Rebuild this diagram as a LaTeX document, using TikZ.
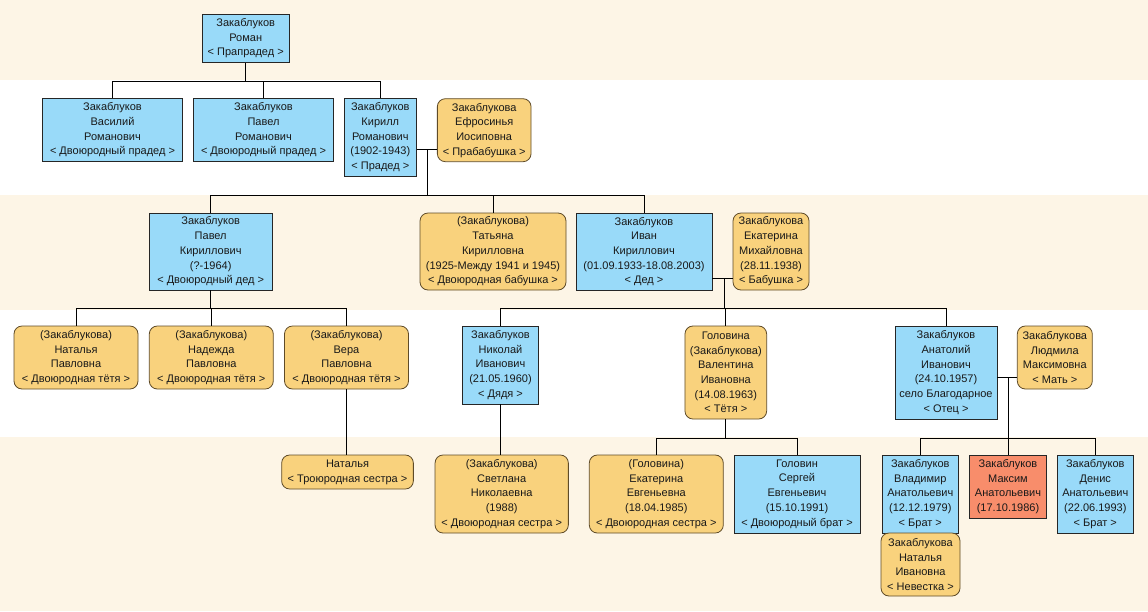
\documentclass[tikz,border=0pt]{standalone}
\usepackage{fontspec}
\setmainfont{Liberation Sans}
\definecolor{cream}{RGB}{253,245,230}
\definecolor{pblue}{RGB}{153,218,249}
\definecolor{porange}{RGB}{249,210,125}
\definecolor{pred}{RGB}{248,141,107}
\definecolor{rimbrown}{RGB}{95,75,40}
\begin{document}
\begin{tikzpicture}[x=1pt,y=-1pt,
  person/.style={inner sep=0pt, align=center, font=\fontsize{11}{14.7}\selectfont, text=black!90, line width=0.8pt},
  man/.style={person, fill=pblue, draw=black!85},
  woman/.style={person, fill=porange, draw=rimbrown, rounded corners=8pt},
  focus/.style={person, fill=pred, draw=black!85},
  link/.style={draw=black, line width=0.9pt}]
\useasboundingbox (0,0) rectangle (1148,611);
% background bands
\fill[cream] (0,0) rectangle (1148,80);
\fill[cream] (0,195) rectangle (1148,310);
\fill[cream] (0,437) rectangle (1148,611);

% bus coordinates
\coordinate (bus0) at (0,81);
\coordinate (ke) at (427.7,149.7);
\coordinate (bus1) at (0,195);
\coordinate (ie) at (724,278);
\coordinate (bus2) at (0,308);
\coordinate (bus3) at (0,438);

% row 0
\node[man, minimum width=87.5pt, minimum height=48pt] (roman) at (245.7,38.3) {Закаблуков\\Роман\\< Прапрадед >};
% row 1
\node[man, minimum width=139.6pt, minimum height=62.7pt] (vasily) at (112.5,130) {Закаблуков\\Василий\\Романович\\< Двоюродный прадед >};
\node[man, minimum width=139.6pt, minimum height=62.7pt] (pavelR) at (263.5,130) {Закаблуков\\Павел\\Романович\\< Двоюродный прадед >};
\node[man, minimum width=72pt, minimum height=77.3pt] (kirill) at (380.3,137.35) {Закаблуков\\Кирилл\\Романович\\(1902-1943)\\< Прадед >};
\node[woman, minimum width=93.7pt, minimum height=63pt] (efros) at (484.2,130.2) {Закаблукова\\Ефросинья\\Иосиповна\\< Прабабушка >};
% row 2
\node[man, minimum width=122.7pt, minimum height=77pt] (pavelK) at (210.7,251.5) {Закаблуков\\Павел\\Кириллович\\(?-1964)\\< Двоюродный дед >};
\node[woman, minimum width=146pt, minimum height=77pt] (tatyana) at (493,251.5) {(Закаблукова)\\Татьяна\\Кирилловна\\(1925-Между 1941 и 1945)\\< Двоюродная бабушка >};
\node[man, minimum width=136pt, minimum height=77pt] (ivan) at (644,251.5) {Закаблуков\\Иван\\Кириллович\\(01.09.1933-18.08.2003)\\< Дед >};
\node[woman, minimum width=76pt, minimum height=77pt] (ekat) at (771,251.5) {Закаблукова\\Екатерина\\Михайловна\\(28.11.1938)\\< Бабушка >};
% row 3
\node[woman, minimum width=124pt, minimum height=63pt] (nataliaP) at (76,357.5) {(Закаблукова)\\Наталья\\Павловна\\< Двоюродная тётя >};
\node[woman, minimum width=124pt, minimum height=63pt] (nadezhda) at (211.3,357.5) {(Закаблукова)\\Надежда\\Павловна\\< Двоюродная тётя >};
\node[woman, minimum width=124pt, minimum height=63pt] (vera) at (346.5,357.5) {(Закаблукова)\\Вера\\Павловна\\< Двоюродная тётя >};
\node[man, minimum width=76.4pt, minimum height=78pt] (nikolay) at (500.5,365) {Закаблуков\\Николай\\Иванович\\(21.05.1960)\\< Дядя >};
\node[woman, minimum width=81.7pt, minimum height=93pt] (valentina) at (725.8,372.5) {Головина\\(Закаблукова)\\Валентина\\Ивановна\\(14.08.1963)\\< Тётя >};
\node[man, minimum width=102pt, minimum height=93pt] (anatoliy) at (946,372.5) {Закаблуков\\Анатолий\\Иванович\\(24.10.1957)\\село Благодарное\\< Отец >};
\node[woman, minimum width=75pt, minimum height=63pt] (lyudmila) at (1054.8,357.5) {Закаблукова\\Людмила\\Максимовна\\< Мать >};
% row 4
\node[woman, minimum width=131.7pt, minimum height=34pt] (nataliaT) at (347.5,472) {Наталья\\< Троюродная сестра >};
\node[woman, minimum width=133.3pt, minimum height=78pt] (svetlana) at (501.7,494) {(Закаблукова)\\Светлана\\Николаевна\\(1988)\\< Двоюродная сестра >};
\node[woman, minimum width=134pt, minimum height=78pt] (ekatG) at (656.3,494) {(Головина)\\Екатерина\\Евгеньевна\\(18.04.1985)\\< Двоюродная сестра >};
\node[man, minimum width=126pt, minimum height=78pt] (sergey) at (797,494) {Головин\\Сергей\\Евгеньевич\\(15.10.1991)\\< Двоюродный брат >};
\node[man, minimum width=76pt, minimum height=78pt] (vladimir) at (920.3,494) {Закаблуков\\Владимир\\Анатольевич\\(12.12.1979)\\< Брат >};
\node[woman, minimum width=79pt, minimum height=63pt] (natalyaI) at (920.5,564.5) {Закаблукова\\Наталья\\Ивановна\\< Невестка >};
\node[focus, minimum width=76.7pt, minimum height=63pt] (maxim) at (1008,486.5) {Закаблуков\\Максим\\Анатольевич\\(17.10.1986)};
\node[man, minimum width=76pt, minimum height=78pt] (denis) at (1095.3,494) {Закаблуков\\Денис\\Анатольевич\\(22.06.1993)\\< Брат >};

\coordinate (al) at (maxim.north |- 0,377);

% connectors: Roman's children
\draw[link] (roman.south) -- (roman.south |- bus0);
\draw[link] (vasily.north) |- (kirill.north |- bus0) -- (kirill.north);
\draw[link] (pavelR.north) -- (pavelR.north |- bus0);
% Kirill + Efrosinya
\draw[link] (kirill.east |- ke) -- (efros.west |- ke);
\draw[link] (ke) -- (ke |- bus1);
\draw[link] (pavelK.north) |- (ivan.north |- bus1) -- (ivan.north);
\draw[link] (tatyana.north) -- (tatyana.north |- bus1);
% Pavel K's children
\draw[link] (pavelK.south) -- (pavelK.south |- bus2);
\draw[link] (nataliaP.north) |- (vera.north |- bus2) -- (vera.north);
\draw[link] (nadezhda.north) -- (nadezhda.north |- bus2);
\draw[link] (vera.south) -- (vera.south |- nataliaT.north);
% Ivan + Ekaterina
\draw[link] (ivan.east |- ie) -- (ekat.west |- ie);
\draw[link] (ie) -- (ie |- bus2);
\draw[link] (nikolay.north) |- (anatoliy.north |- bus2) -- (anatoliy.north);
\draw[link] (valentina.north) -- (valentina.north |- bus2);
% Nikolay's child
\draw[link] (nikolay.south) -- (nikolay.south |- svetlana.north);
% Valentina's children
\draw[link] (valentina.south) -- (valentina.south |- bus3);
\draw[link] (ekatG.north) |- (sergey.north |- bus3) -- (sergey.north);
% Anatoliy + Lyudmila
\draw[link] (anatoliy.east |- al) -- (lyudmila.west |- al);
\draw[link] (al) -- (maxim.north);
\draw[link] (vladimir.north) |- (denis.north |- bus3) -- (denis.north);
\end{tikzpicture}
\end{document}
